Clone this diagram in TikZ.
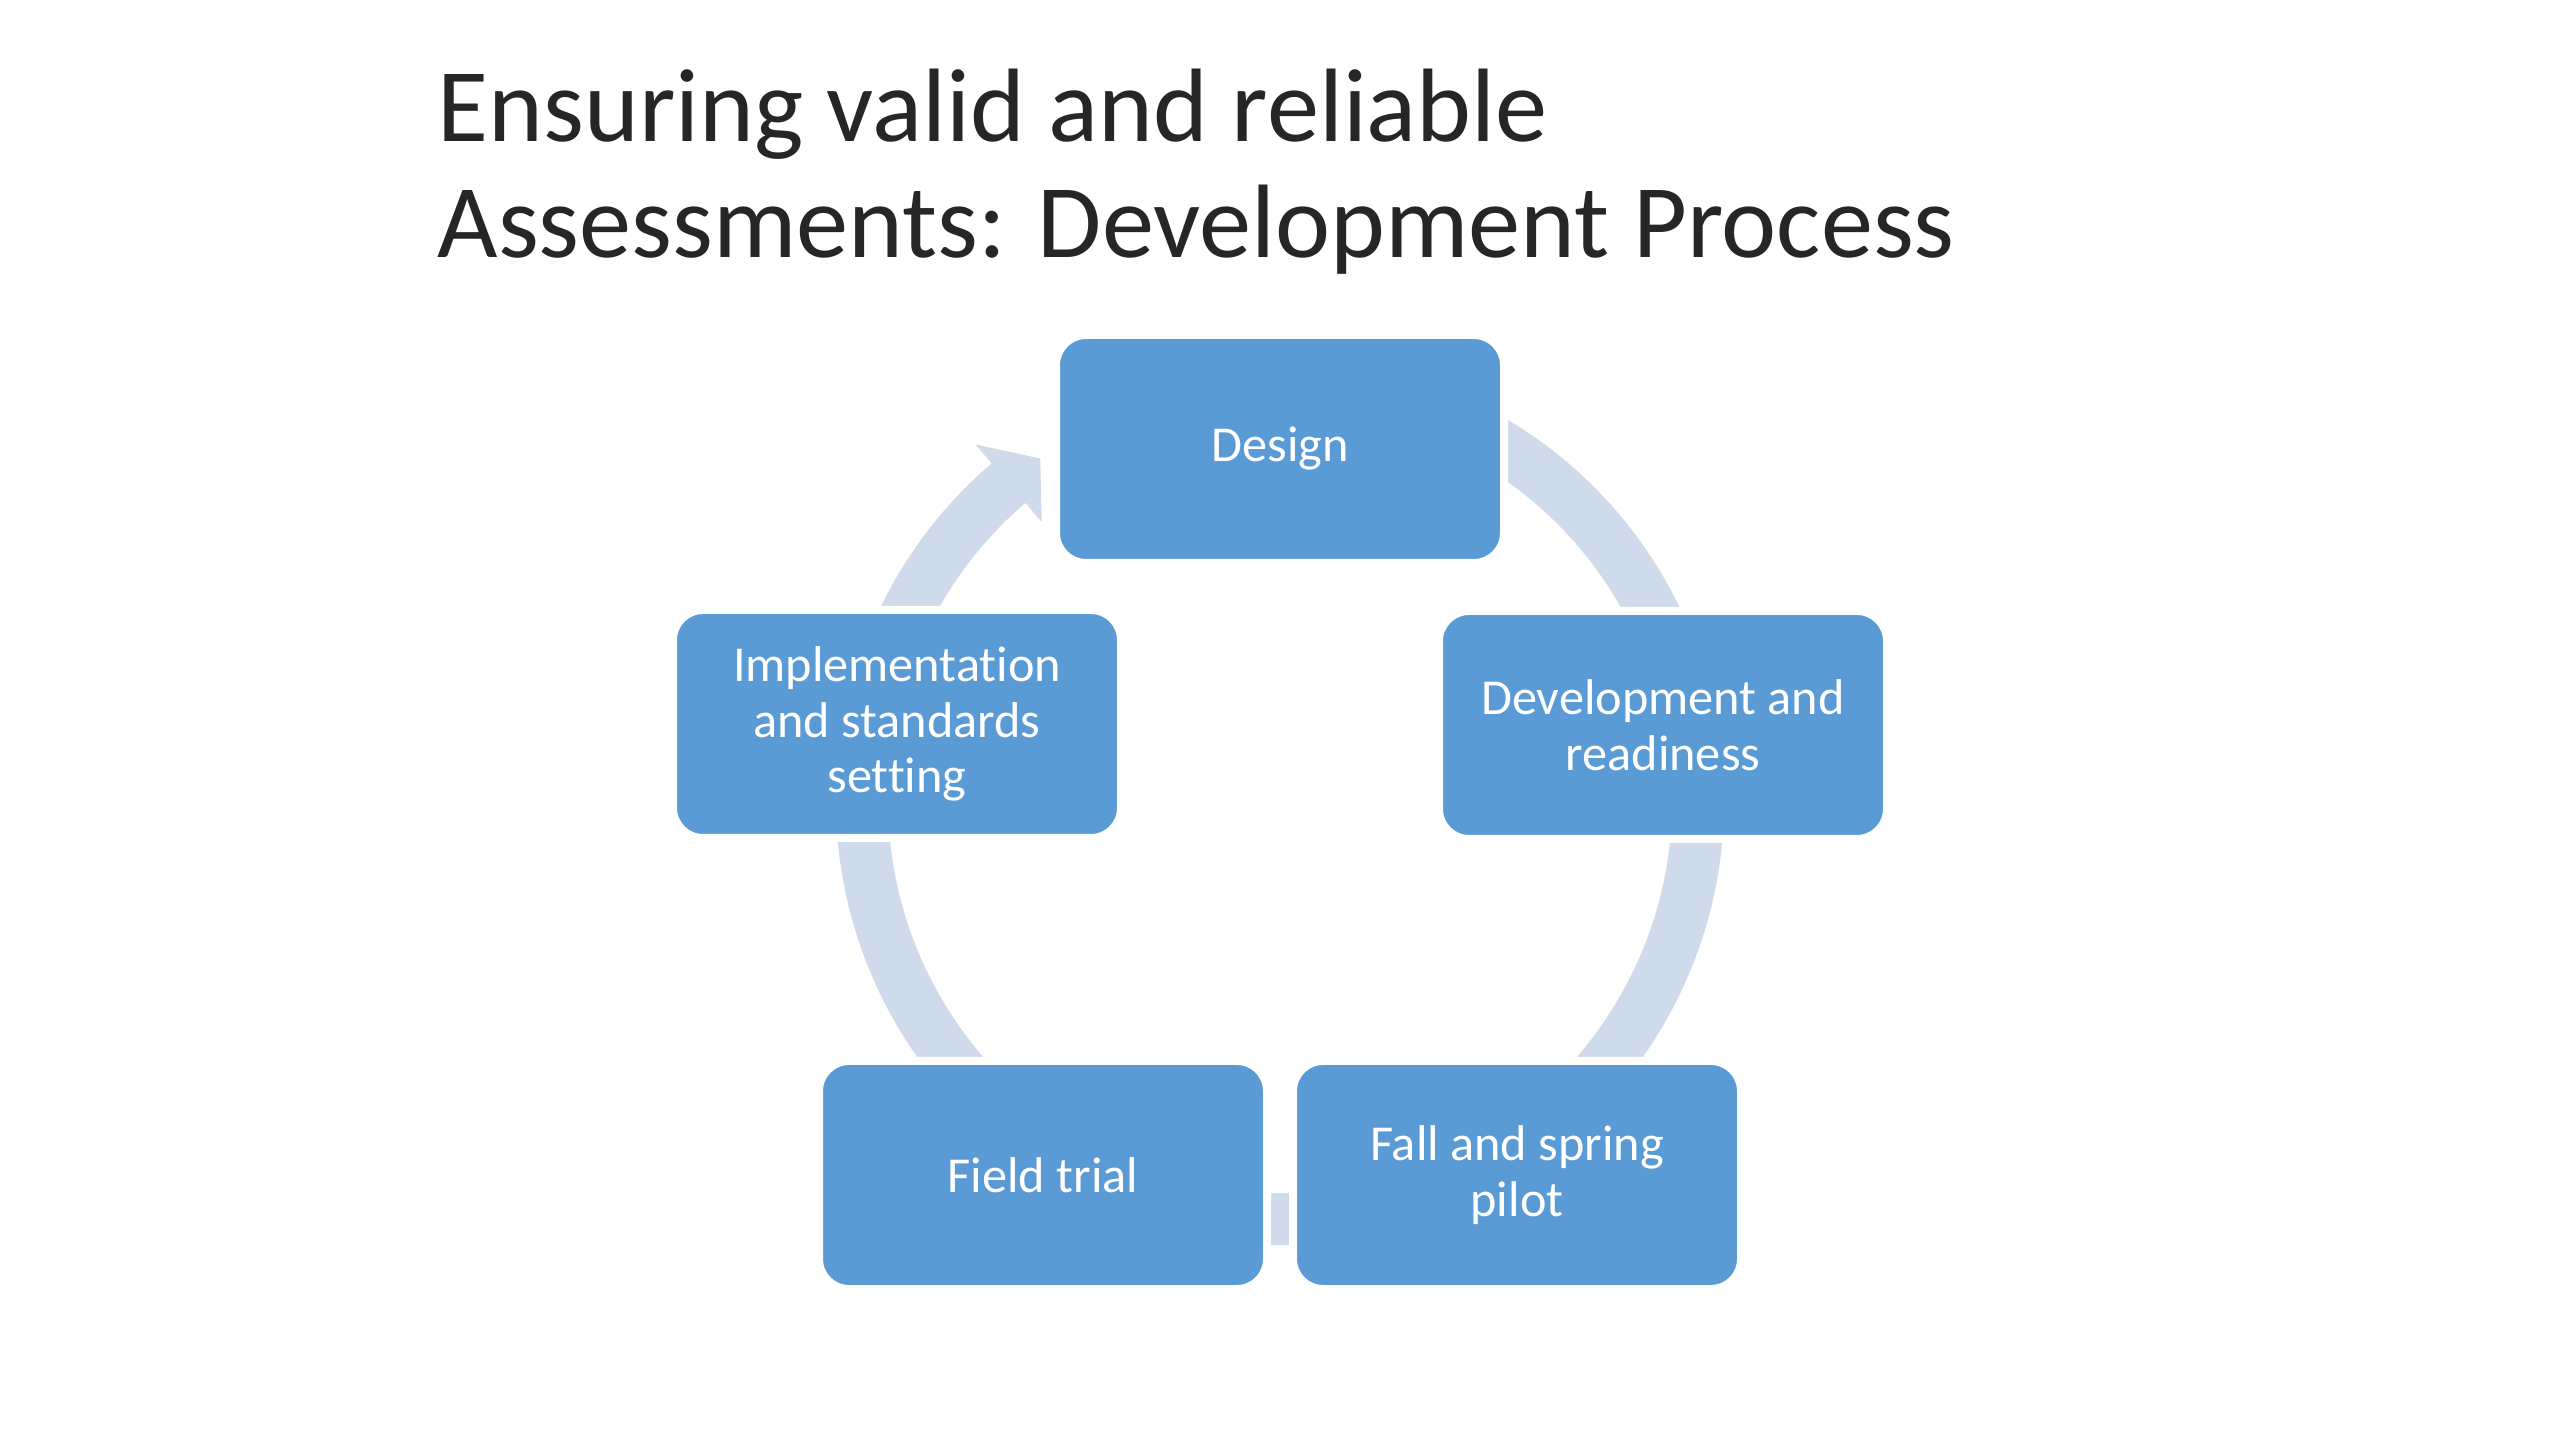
\documentclass[tikz,border=0pt]{standalone}
\usepackage{fontspec}
\setmainfont{Carlito}[Ligatures=NoCommon]
\usetikzlibrary{shapes}

\definecolor{stepblue}{RGB}{91,155,213}
\definecolor{ringgrey}{RGB}{207,218,234}

\begin{document}
\begin{tikzpicture}
      \tikzstyle{phase} = [
        rectangle,
        draw=white,
        line width=0.08cm,
        fill=stepblue,
        text=white,
        font=\fontsize{14.3}{15.8}\selectfont,
        align=center,
        minimum width=4.48cm,
        minimum height=2.28cm,
        rounded corners=0.3cm
      ]

      \tikzstyle{heading} = [
        anchor=base west,
        inner sep=0pt,
        text=black!85,
        font=\fontsize{29.7}{33}\selectfont
      ]

      \tikzstyle{ring} = [
        draw=ringgrey,
        line width=0.52cm
      ]

      \fill[white] (0,0) rectangle (25.6,14.4);

      \node[heading] (title1) at (4.37,12.98) {Ensuring valid and reliable};
      \node[heading] (title2) at (4.37,11.82) {Assessments: Development Process};

      % the cycle behind the boxes
      \coordinate (hub) at (12.80,6.39);
      \draw[ring] (hub) ++(62:4.18) arc[start angle=62, end angle=-229.8, radius=4.18];
      \fill[ringgrey, shift={(hub)}] (130.5:4.69) -- (125:4.18) -- (130.5:3.67) -- cycle;

      \node[phase] (design) at (12.80,9.91) {Design};
      \node[phase] (develop) at (16.63,7.15) {Development and\\readiness};
      \node[phase] (pilot) at (15.17,2.65) {Fall and spring\\pilot};
      \node[phase] (trial) at (10.43,2.65) {Field trial};
      \node[phase] (rollout) at (8.97,7.16) {Implementation\\and standards\\setting};
    \end{tikzpicture}
\end{document}
